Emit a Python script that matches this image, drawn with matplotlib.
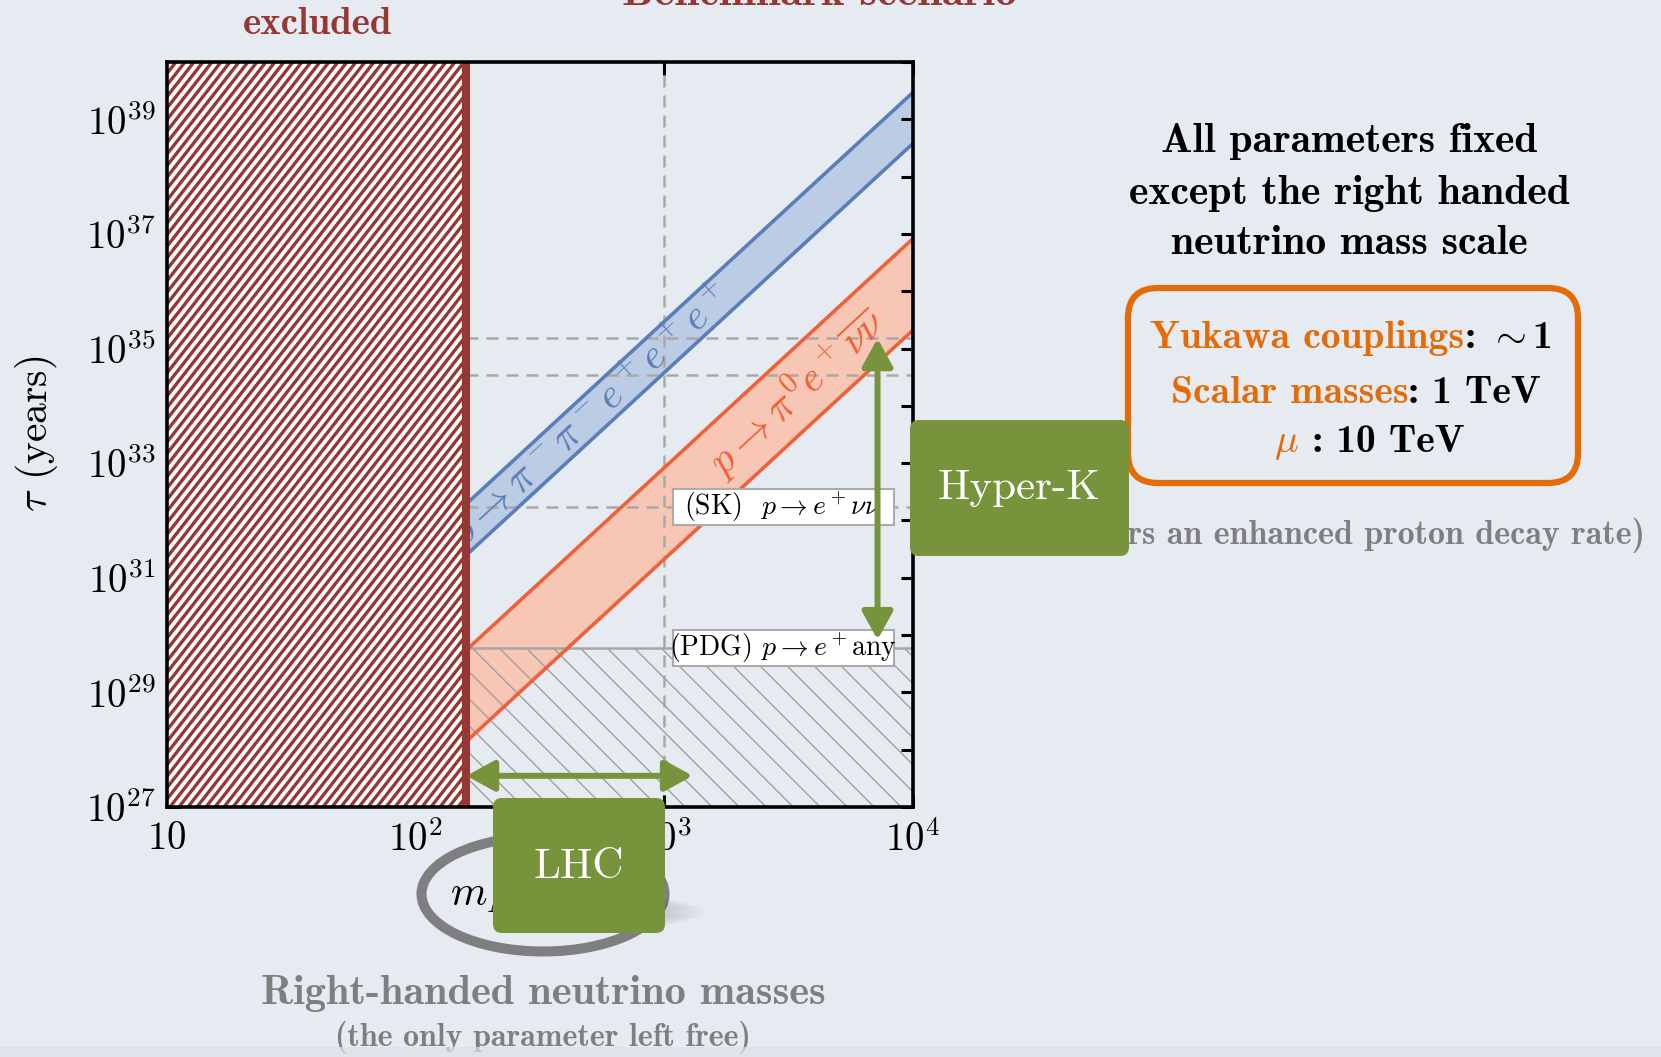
import numpy as np
import matplotlib.pyplot as plt
from matplotlib.patches import FancyBboxPatch, Ellipse, Rectangle
from matplotlib.transforms import Affine2D, IdentityTransform
from matplotlib.lines import Line2D

plt.rcParams['mathtext.fontset'] = 'cm'
plt.rcParams['font.family'] = ['cmr10', 'DejaVu Serif']
plt.rcParams['axes.unicode_minus'] = False
plt.rcParams['axes.formatter.use_mathtext'] = True

W, H = 1661, 1057
BG = '#E6EAF1'
DARKRED = '#953735'
GREEN = '#77933C'
ORANGE = '#E36C09'
GREY = '#7F7F7F'
BLUE = '#5A7EB8'
BLUE_FILL = '#BCCCE4'
RED = '#EE6139'
RED_FILL = '#F7C6B4'
DASH = '#A9A9A9'

# right-handed neutrino mass (GeV) at the two ends of the bands
m_n = [160, 1e4]
# predicted lifetimes (years): lower / upper edge of each band
tau_3e_lo = [2.5e31, 3.8e38]
tau_3e_hi = [1.95e32, 2.95e39]
tau_nunu_lo = [1.4e28, 2.1e35]
tau_nunu_hi = [5.5e29, 8.3e36]

m_excl = 160          # excluded below this mass
m_lhc = 1.3e3         # LHC reach
m_hk = 7.2e3          # Hyper-K arrow position
tau_hk = [1.5e35, 3.5e34]   # Hyper-K sensitivities
tau_sk = 1.7e32             # SK bound, p -> e+ nu nu
tau_pdg = 6.0e29            # PDG bound, p -> e+ anything
tau_hk_arrow = [8.3e29, 1.5e35]
tau_lhc_arrow = 3.5e27

x_ticks = [10, 1e2, 1e3, 1e4]
x_labels = ['$10$', '$10^2$', '$10^3$', '$10^4$']
y_exp = list(range(27, 41))
y_labels = [f'$10^{{{k}}}$' if k % 2 else '' for k in y_exp]

fig = plt.figure(figsize=(W / 100, H / 100), dpi=100, facecolor=BG)
# pixel coordinates measured from the top-left corner
px = Affine2D().scale(1 / W, -1 / H).translate(0, 1) + fig.transFigure

ax = fig.add_axes([167 / W, 1 - 807 / H, 746 / W, 745 / H])
ax.set_facecolor('none')
ax.set_xscale('log')
ax.set_yscale('log')
ax.set_xlim(10, 1e4)
ax.set_ylim(1e27, 1e40)
ax.set_xticks(x_ticks, x_labels)
ax.set_yticks([10.0 ** k for k in y_exp], y_labels)
ax.minorticks_off()
ax.tick_params(direction='in', length=9, width=2.2, top=True, right=True,
               labelsize=28, pad=8)
ax.tick_params(axis='x', pad=10)
for s in ax.spines.values():
    s.set_linewidth(2.6)
    s.set_zorder(4)


def hatch(patch, step, angle, color, lw, zorder):
    bb = patch.get_window_extent()
    span = bb.height / np.tan(np.radians(angle))
    for x0 in np.arange(bb.x0 - abs(span) - step, bb.x1 + abs(span) + step, step):
        ln = Line2D([x0, x0 + span], [bb.y0, bb.y1], transform=IdentityTransform(),
                    color=color, lw=lw, zorder=zorder, solid_capstyle='butt')
        ax.add_line(ln)
        ln.set_clip_path(patch)


def band_mid(x, lo, hi):
    lx = np.log10(x)
    l = np.interp(lx, np.log10(m_n), np.log10(lo))
    h = np.interp(lx, np.log10(m_n), np.log10(hi))
    return 10 ** ((l + h) / 2)


def band_angle(ys):
    p = ax.transData.transform(np.column_stack([m_n, ys]))
    return np.degrees(np.arctan2(p[1, 1] - p[0, 1], p[1, 0] - p[0, 0]))


# bands
ax.fill_between(m_n, tau_3e_lo, tau_3e_hi, color=BLUE_FILL, lw=0, zorder=1)
ax.plot(m_n, tau_3e_lo, color=BLUE, lw=2.6, zorder=2)
ax.plot(m_n, tau_3e_hi, color=BLUE, lw=2.6, zorder=2)
ax.fill_between(m_n, tau_nunu_lo, tau_nunu_hi, color=RED_FILL, lw=0, zorder=1)
ax.plot(m_n, tau_nunu_lo, color=RED, lw=2.6, zorder=2)
ax.plot(m_n, tau_nunu_hi, color=RED, lw=2.6, zorder=2)

x_lab = 10 ** 2.70
ax.text(x_lab, band_mid(x_lab, tau_3e_lo, tau_3e_hi), r'$p\to\pi^-\pi^-e^+e^+e^+$',
        color=BLUE, fontsize=30, rotation=band_angle(tau_3e_hi),
        rotation_mode='anchor', ha='center', va='center', zorder=2.2)
x_lab = 10 ** 3.53
ax.text(x_lab, band_mid(x_lab, tau_nunu_lo, tau_nunu_hi), r'$p\to\pi^0e^+\overline{\nu\nu}$',
        color=RED, fontsize=30, rotation=band_angle(tau_nunu_hi),
        rotation_mode='anchor', ha='center', va='center', zorder=2.2)

# experimental limits
dash = (0, (4.8, 3.2))
ax.axvline(1e3, color=DASH, ls=dash, lw=1.8, zorder=1.5)
ax.hlines(tau_hk + [tau_sk], m_excl, 1e4, color=DASH, ls=dash, lw=1.8, zorder=1.5)
ax.hlines(tau_pdg, m_excl, 1e4, color='#A6A6A6', lw=1.8, zorder=1.9)
pdg_area = Rectangle((m_excl, 1e27), 1e4 - m_excl, tau_pdg - 1e27, fc='none', ec='none')
ax.add_patch(pdg_area)
hatch(pdg_area, 27, -45, '#A0A0A0', 1.0, 1.8)


def limit_label(tau, s):
    yd = ax.transData.transform((1e3, tau))[1]
    ax.add_patch(Rectangle((673, yd - 18), 221, 36, transform=IdentityTransform(),
                           fc='white', ec='#ABABAB', lw=1.5, zorder=5))
    ax.text(783, yd, s, transform=IdentityTransform(), fontsize=20,
            ha='center', va='center', zorder=5.1)


limit_label(tau_sk, r'(SK)  $p\to e^+\nu\nu$')
limit_label(tau_pdg, r'(PDG) $p\to e^+$any')

# excluded region
excl = ax.axvspan(10, m_excl, fc='white', ec='none', zorder=3)
hatch(excl, 9, 52, DARKRED, 2.4, 3.2)
ax.axvline(m_excl, color=DARKRED, lw=5.8, zorder=3.5)

# reach arrows
arrow = dict(arrowstyle='<|-|>,head_length=1.0,head_width=0.55', color=GREEN,
             lw=4.3, mutation_scale=17, shrinkA=0, shrinkB=0)
ax.annotate('', xy=(m_lhc, tau_lhc_arrow), xytext=(m_excl, tau_lhc_arrow),
            arrowprops=arrow, zorder=6)
ax.annotate('', xy=(m_hk, tau_hk_arrow[1]), xytext=(m_hk, tau_hk_arrow[0]),
            arrowprops=arrow, zorder=6)

fig.text(37, 434, r'$\tau$ (years)', transform=px, rotation=90, fontsize=30,
         ha='center', va='center')

# slide text
fig.text(820, 5, 'Benchmark scenario', transform=px, family='cmb10', fontsize=32,
         color=DARKRED, ha='center', va='baseline')
fig.text(318, 25, 'excluded', transform=px, family='cmb10', fontsize=28, color=DARKRED,
         ha='center', va='center')

for y, s in zip([141, 193, 243], ['All parameters fixed', 'except the right handed',
                                  'neutrino mass scale']):
    fig.text(1349, y, s, transform=px, family='cmb10', fontsize=30,
             ha='center', va='center')

renderer = fig.canvas.get_renderer()


def colored_line(parts, xc, y, size):
    texts = [fig.text(0, y, s, transform=px, color=c, fontsize=size,
                      family='cmb10', va='baseline') for s, c in parts]
    widths = [t.get_window_extent(renderer).width for t in texts]
    x = xc - sum(widths) / 2
    for t, w in zip(texts, widths):
        t.set_x(x)
        x += w


colored_line([('Yukawa couplings', ORANGE), (r': $\sim$1', 'black')], 1351, 348, 28.5)
colored_line([('Scalar masses', ORANGE), (': 1 TeV', 'black')], 1356, 403, 28.5)
colored_line([(r'$\mu$', ORANGE), (' : 10 TeV', 'black')], 1369, 452, 28.5)
fig.add_artist(FancyBboxPatch((1128, 288), 450, 195, boxstyle='round,pad=0,rounding_size=30',
                              transform=px, fc='none', ec=ORANGE, lw=4.5))

fig.text(1645, 535, '(which favors an enhanced proton decay rate)', transform=px,
         family='cmb10', fontsize=24.5, color=GREY, ha='right', va='center', zorder=1)

# mass label ring, partly behind the LHC box
fig.add_artist(Ellipse((543, 894), 243, 115, transform=px, fill=False, ec=GREY, lw=7.2,
                       zorder=1))
fig.text(450, 906, '$m_N$', transform=px, fontsize=30, ha='left', va='baseline', zorder=2)
# soft shadow to the right of the LHC box
for k in range(10):
    fig.add_artist(FancyBboxPatch((630, 897 + k), 40 + 4 * k, 30 - 2 * k,
                                  boxstyle='round,pad=0,rounding_size=10', transform=px,
                                  fc='black', ec='none', alpha=0.012, zorder=2.5))

fig.add_artist(FancyBboxPatch((910, 420), 219, 136, boxstyle='round,pad=0,rounding_size=9',
                              transform=px, fc=GREEN, ec='none', zorder=3))
fig.text(1019, 488, 'Hyper-K', transform=px, fontsize=31, color='white',
         ha='center', va='center', zorder=4)
fig.add_artist(FancyBboxPatch((493, 798), 172, 135, boxstyle='round,pad=0,rounding_size=9',
                              transform=px, fc=GREEN, ec='none', zorder=3))
fig.text(579, 867, 'LHC', transform=px, fontsize=31, color='white',
         ha='center', va='center', zorder=4)

fig.text(543, 993, 'Right-handed neutrino masses', transform=px, family='cmb10',
         fontsize=30.5, color=GREY, ha='center', va='center')
fig.text(543, 1038, '(the only parameter left free)', transform=px, family='cmb10',
         fontsize=23, color=GREY, ha='center', va='center')
fig.add_artist(Rectangle((0, 1047), W, 10, transform=px, fc='#DEE1E7', ec='none',
                         alpha=0.7, zorder=5))

fig.savefig('out.png', dpi=100, facecolor=BG)
